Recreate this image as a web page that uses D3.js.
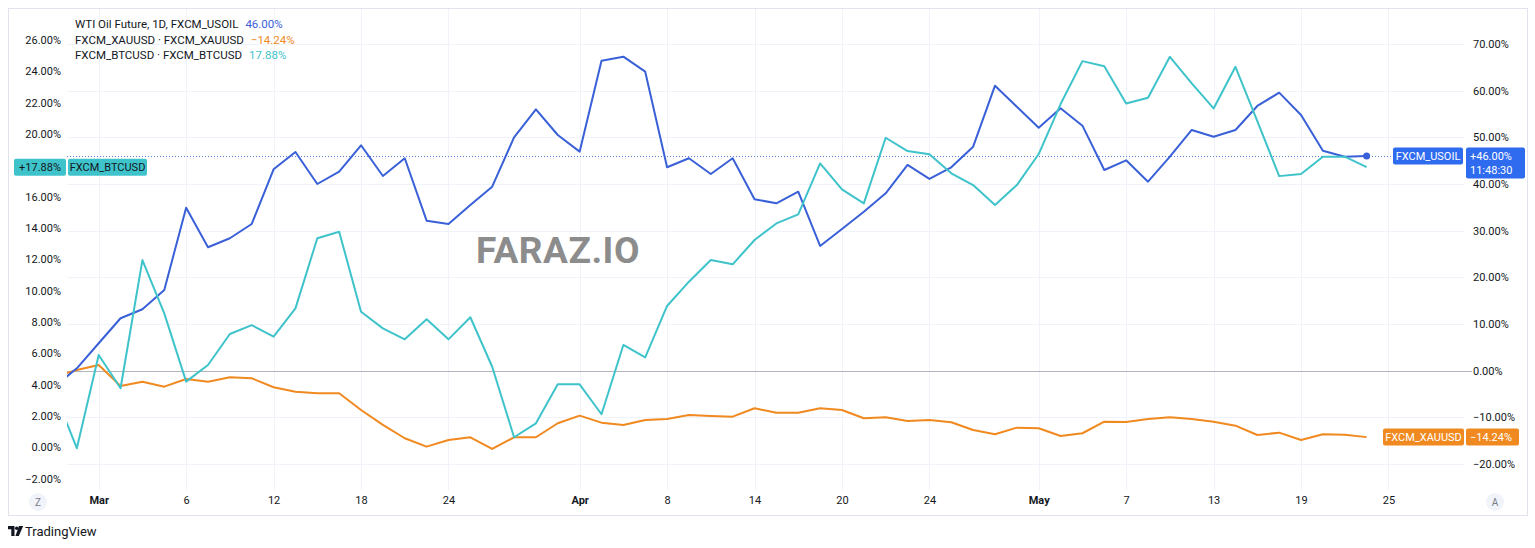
<!DOCTYPE html>
<html>
<head>
<meta charset="utf-8">
<script src="https://cdn.jsdelivr.net/npm/d3@7"></script>
<style>
  body { margin: 0; background: #fff; }
  svg { display: block; font-family: Roboto, "Noto Sans", sans-serif; }
</style>
</head>
<body>
<div id="chart"></div>
<script>
// Daily bars, % change vs. the comparison start. First value sits one bar
// left of the visible range (bar -1), so the line comes in from the edge.
const firstBar = -1;

// WTI Oil Future (main series, right scale)
const usoil = [
  -3.34, 0.51, 5.87, 11.23, 13.16, 17.29, 34.93, 26.44, 28.37, 31.43,
  43.15, 46.86, 40.00, 42.64, 48.30, 41.72, 45.51, 32.14, 31.43, 35.50,
  39.43, 50.01, 56.01, 50.50, 46.93, 66.42, 67.28, 64.07, 43.58, 45.51,
  42.15, 45.51, 36.73, 35.87, 38.35, 26.72, 30.36, 34.07, 38.01, 44.08,
  41.08, 43.58, 48.00, 61.07, 56.57, 52.07, 56.22, 52.50, 43.00, 45.08,
  40.50, 45.85, 51.58, 50.14, 51.58, 56.72, 59.57, 54.79, 47.14, 45.85,
  46.00
];

// Gold (right scale)
const xauusd = [
  -1.29, 0.15, 1.22, -3.28, -2.36, -3.43, -1.78, -2.36, -1.41, -1.63,
  -3.56, -4.50, -4.84, -4.84, -8.42, -11.63, -14.48, -16.28, -14.85, -14.27,
  -16.78, -14.27, -14.27, -11.27, -9.64, -11.14, -11.63, -10.56, -10.35, -9.49,
  -9.71, -9.86, -8.06, -9.00, -9.00, -8.06, -8.42, -10.20, -9.99, -10.78,
  -10.56, -11.06, -12.71, -13.63, -12.21, -12.34, -13.99, -13.41, -10.93, -10.99,
  -10.35, -9.99, -10.35, -10.93, -11.79, -13.78, -13.28, -14.85, -13.63, -13.71,
  -14.24
];

// Bitcoin (left scale)
const btcusd = [
  3.42, -0.06, 5.89, 3.77, 11.95, 8.55, 4.19, 5.25, 7.23, 7.80,
  7.06, 8.87, 13.34, 13.76, 8.65, 7.59, 6.89, 8.17, 6.89, 8.30,
  5.14, 0.64, 1.53, 4.02, 4.02, 2.11, 6.53, 5.74, 9.02, 10.57,
  11.95, 11.68, 13.23, 14.29, 14.87, 18.12, 16.46, 15.57, 19.76, 18.91,
  18.70, 17.49, 16.74, 15.46, 16.74, 18.72, 21.91, 24.65, 24.33, 21.95,
  22.31, 24.93, 23.23, 21.63, 24.29, 20.82, 17.31, 17.44, 18.55, 18.55,
  17.88
];

// time axis: bar index -> label
const tickBars   = [1, 5, 9, 13, 17, 23, 27, 31, 35, 39, 44, 48, 52, 56, 60];
const tickLabels = ["Mar", "6", "12", "18", "24", "Apr", "8", "14", "20", "24", "May", "7", "13", "19", "25"];
const monthLabels = ["Mar", "Apr", "May"];

// 18.00% sits under the BTC price tag, so it is not shown
const leftTicks  = [-2, 0, 2, 4, 6, 8, 10, 12, 14, 16, 20, 22, 24, 26];
const rightTicks = [-20, -10, 0, 10, 20, 30, 40, 50, 60, 70];

const legendNames = ["WTI Oil Future, 1D, FXCM_USOIL", "FXCM_XAUUSD · FXCM_XAUUSD", "FXCM_BTCUSD · FXCM_BTCUSD"];
const legendValues = ["46.00%", "\u221214.24%", "17.88%"];

const colors = { usoil: "#3a60d8", xau: "#f0891f", btc: "#3fc3cb" };

const fmt = v => (v < 0 ? "\u2212" : "") + Math.abs(v).toFixed(2) + "%";

const W = 1535, H = 548;
const plot = { left: 67, right: 1465, top: 8, bottom: 490 };

const svg = d3.select("#chart")
  .append("svg")
  .attr("width", W)
  .attr("height", H);

// chart frame
svg.append("rect")
  .attr("x", 8.5).attr("y", 8.5)
  .attr("width", 1519).attr("height", 507)
  .attr("fill", "#fff")
  .attr("stroke", "#e0e3eb");

// scales
const x = d3.scaleLinear().domain([-0.45, 63.5]).range([plot.left, plot.right]);
const yR = d3.scaleLinear().domain([-20, 70]).range([464, 44]);
const yL = d3.scaleLinear().domain([-2, 26]).range([478.6, 40]);

// grid
const grid = svg.append("g");
grid.selectAll(".hgrid")
  .data(rightTicks.filter(d => d !== 0))
  .enter().append("line")
  .attr("x1", plot.left).attr("x2", plot.right)
  .attr("y1", d => Math.round(yR(d)) + 0.5).attr("y2", d => Math.round(yR(d)) + 0.5)
  .attr("stroke", "#f0f3fa");
grid.selectAll(".vgrid")
  .data(tickBars)
  .enter().append("line")
  .attr("x1", d => Math.round(x(d)) + 0.5).attr("x2", d => Math.round(x(d)) + 0.5)
  .attr("y1", plot.top + 1).attr("y2", plot.bottom)
  .attr("stroke", "#f0f3fa");

// zero line of the comparison
grid.append("line")
  .attr("x1", plot.left).attr("x2", 1472)
  .attr("y1", Math.round(yR(0)) + 0.5).attr("y2", Math.round(yR(0)) + 0.5)
  .attr("stroke", "#b2b5be");

// watermark
svg.append("text")
  .attr("x", 558).attr("y", 263)
  .attr("text-anchor", "middle")
  .style("font-size", "37px")
  .style("font-weight", "bold")
  .style("letter-spacing", "0.5px")
  .attr("fill", "#8c8c8c")
  .text("FARAZ.IO");

// last-price dotted line for the main series
svg.append("line")
  .attr("x1", plot.left).attr("x2", 1393)
  .attr("y1", Math.round(yR(usoil[usoil.length - 1])) + 0.5)
  .attr("y2", Math.round(yR(usoil[usoil.length - 1])) + 0.5)
  .attr("stroke", "#5a7fd6")
  .attr("stroke-dasharray", "1,2");

// lines, clipped to the pane
svg.append("clipPath").attr("id", "pane")
  .append("rect")
  .attr("x", plot.left).attr("y", plot.top)
  .attr("width", plot.right - plot.left).attr("height", plot.bottom - plot.top);

const lines = svg.append("g").attr("clip-path", "url(#pane)");

const lineR = d3.line().x((d, i) => x(firstBar + i)).y(d => yR(d));
const lineL = d3.line().x((d, i) => x(firstBar + i)).y(d => yL(d));

lines.append("path").datum(xauusd)
  .attr("d", lineR).attr("fill", "none")
  .attr("stroke", colors.xau).attr("stroke-width", 2).attr("stroke-linejoin", "round");
lines.append("path").datum(usoil)
  .attr("d", lineR).attr("fill", "none")
  .attr("stroke", colors.usoil).attr("stroke-width", 2).attr("stroke-linejoin", "round");
lines.append("path").datum(btcusd)
  .attr("d", lineL).attr("fill", "none")
  .attr("stroke", colors.btc).attr("stroke-width", 2).attr("stroke-linejoin", "round");

// dot on the last bar
lines.append("circle")
  .attr("cx", x(firstBar + usoil.length - 1))
  .attr("cy", yR(usoil[usoil.length - 1]))
  .attr("r", 3.5)
  .attr("fill", colors.usoil);

// left axis (BTC)
const leftAxis = svg.append("g")
  .attr("transform", "translate(61,0)")
  .call(d3.axisLeft(yL).tickValues(leftTicks).tickSize(0).tickPadding(0).tickFormat(fmt));
leftAxis.select(".domain").remove();
leftAxis.selectAll("text")
  .style("font-size", "11px").style("font-family", "Roboto, sans-serif")
  .attr("fill", "#131722");

// right axis (USOIL, XAU)
const rightAxis = svg.append("g")
  .attr("transform", "translate(1473,0)")
  .call(d3.axisRight(yR).tickValues(rightTicks).tickSize(0).tickPadding(0).tickFormat(fmt));
rightAxis.select(".domain").remove();
rightAxis.selectAll("text")
  .style("font-size", "11px").style("font-family", "Roboto, sans-serif")
  .attr("fill", "#131722");

// time axis
const timeAxis = svg.append("g")
  .attr("transform", "translate(0,496)")
  .call(d3.axisBottom(x).tickValues(tickBars).tickSize(0).tickPadding(0)
    .tickFormat((d, i) => tickLabels[i]));
timeAxis.select(".domain").remove();
timeAxis.selectAll("text")
  .style("font-size", "11px").style("font-family", "Roboto, sans-serif")
  .style("font-weight", d => monthLabels.includes(tickLabels[tickBars.indexOf(d)]) ? "bold" : "normal")
  .attr("fill", "#131722");

// scale mode buttons (Z / A)
[["Z", 38], ["A", 1495]].forEach(([t, cx]) => {
  svg.append("circle").attr("cx", cx).attr("cy", 502).attr("r", 9).attr("fill", "#f0f3fa");
  svg.append("text").attr("x", cx).attr("y", 502).attr("dy", "0.35em")
    .attr("text-anchor", "middle").style("font-size", "10px").attr("fill", "#787b86").text(t);
});

// price labels on the scales
function tag(xp, yp, w, h, fill, textColor, lines, anchor) {
  const g = svg.append("g");
  g.append("rect").attr("x", xp).attr("y", yp).attr("width", w).attr("height", h)
    .attr("rx", 2).attr("fill", fill);
  lines.forEach((t, i) => {
    g.append("text")
      .attr("x", anchor === "middle" ? xp + w / 2 : xp + 4)
      .attr("y", yp + 8.5 + i * 14.5).attr("dy", "0.35em")
      .attr("text-anchor", anchor)
      .style("font-size", "11px")
      .attr("fill", textColor)
      .text(t);
  });
}

const lastBtc = btcusd[btcusd.length - 1];
const lastOil = usoil[usoil.length - 1];
const lastXau = xauusd[xauusd.length - 1];

tag(14, yL(lastBtc) - 8.5, 52, 17, colors.btc, "#131722", ["+" + fmt(lastBtc)], "middle");
tag(68, yL(lastBtc) - 8.5, 79, 17, colors.btc, "#131722", ["FXCM_BTCUSD"], "middle");

tag(1393, yR(lastOil) - 8.5, 70, 17, "#2f6bef", "#fff", ["FXCM_USOIL"], "middle");
tag(1466, yR(lastOil) - 8.5, 59, 31, "#2f6bef", "#fff", ["+" + fmt(lastOil), "11:48:30"], "start");

tag(1383, yR(lastXau) - 8.5, 81, 17, colors.xau, "#fff", ["FXCM_XAUUSD"], "middle");
tag(1466, yR(lastXau) - 8.5, 53, 17, colors.xau, "#fff", [fmt(lastXau)], "start");

// legend
const legendColors = [colors.usoil, colors.xau, colors.btc];
legendNames.forEach((name, i) => {
  const t = svg.append("text")
    .attr("x", 75).attr("y", 24 + i * 15.5).attr("dy", "0.35em")
    .style("font-size", "11.5px")
    .attr("fill", "#131722");
  t.append("tspan").text(name);
  t.append("tspan").attr("dx", 7).attr("fill", legendColors[i]).text(legendValues[i]);
});

// TradingView mark
const logo = svg.append("g").attr("fill", "#131722");
logo.append("path").attr("d", "M8,526 h6.5 v10 h-3.2 v-6.8 h-3.3 z");
logo.append("circle").attr("cx", 16.8).attr("cy", 528.2).attr("r", 1.8);
logo.append("path").attr("d", "M19,526 h4.2 l-4.4,10 h-3.4 z");
svg.append("text")
  .attr("x", 25).attr("y", 531).attr("dy", "0.35em")
  .style("font-size", "13px")
  .attr("fill", "#131722")
  .text("TradingView");
</script>
</body>
</html>
